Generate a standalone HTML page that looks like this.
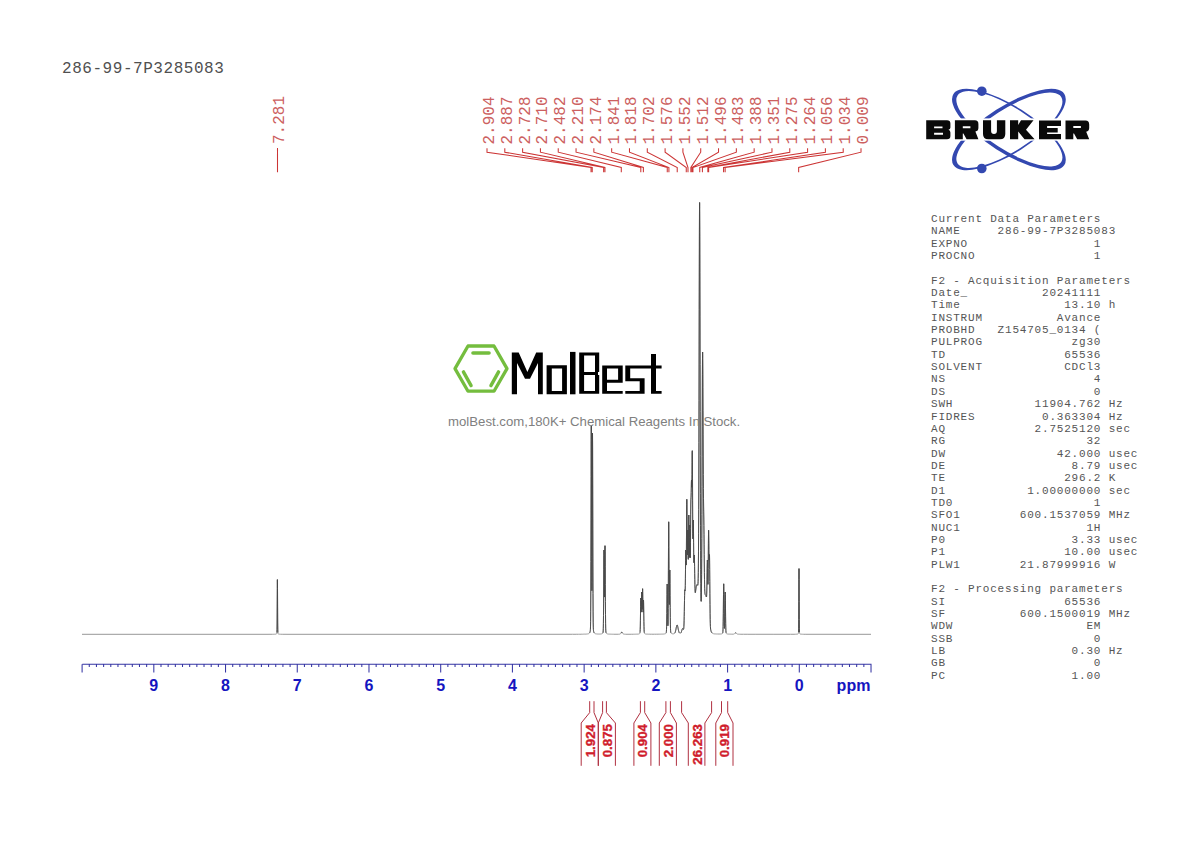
<!DOCTYPE html>
<html><head><meta charset="utf-8"><style>
html,body{margin:0;padding:0;background:#fff;}
body{width:1190px;height:842px;overflow:hidden;position:relative;}
svg{position:absolute;left:0;top:0;}
.axn{font-family:"Liberation Sans",sans-serif;font-weight:bold;font-size:16px;fill:#1515c0;}
.pl{font-family:"Liberation Mono",monospace;font-size:16px;fill:#cc6060;}
.il{font-family:"Liberation Sans",sans-serif;font-weight:bold;font-size:13.3px;fill:#d01c2c;stroke:#d01c2c;stroke-width:0.35px;}
.brk{font-family:"Liberation Sans",sans-serif;font-weight:bold;font-size:26px;fill:#111;}
.wm{font-family:"Liberation Sans",sans-serif;font-size:13.2px;fill:#808080;}
#title{position:absolute;left:62px;top:59px;font-family:"Liberation Mono",monospace;font-size:16px;letter-spacing:0.55px;color:#505050;white-space:pre;line-height:20px;}
#params{position:absolute;left:931px;top:213px;font-family:"Liberation Mono",monospace;font-size:11px;letter-spacing:0.8px;line-height:12.35px;color:#555;white-space:pre;margin:0;}
</style></head><body>
<div id="title">286-99-7P3285083</div>
<svg width="1190" height="842" viewBox="0 0 1190 842">
<path d="M82.00,634.30 L268.00,634.30 L269.00,634.29 L272.60,634.29 L272.70,634.28 L273.70,634.28 L273.80,634.27 L274.30,634.27 L274.40,634.26 L274.60,634.26 L274.70,634.25 L274.90,634.25 L275.00,634.24 L275.10,634.24 L275.20,634.23 L275.30,634.23 L275.40,634.22 L275.50,634.21 L275.60,634.20 L275.70,634.19 L275.80,634.17 L275.90,634.16 L276.00,634.14 L276.10,634.11 L276.20,634.08 L276.30,634.04 L276.40,633.98 L276.50,633.91 L276.60,633.82 L276.70,633.67 L276.80,633.39 L276.90,632.56 L277.00,629.75 L277.10,622.00 L277.20,606.95 L277.30,588.64 L277.40,579.60 L277.50,588.64 L277.60,606.95 L277.70,622.00 L277.80,629.75 L277.90,632.56 L278.00,633.39 L278.10,633.67 L278.20,633.82 L278.30,633.91 L278.40,633.98 L278.50,634.04 L278.60,634.08 L278.70,634.11 L278.80,634.14 L278.90,634.16 L279.00,634.17 L279.10,634.19 L279.20,634.20 L279.30,634.21 L279.40,634.22 L279.50,634.23 L279.60,634.23 L279.70,634.24 L279.80,634.24 L279.90,634.25 L280.10,634.25 L280.20,634.26 L280.40,634.26 L280.50,634.27 L281.00,634.27 L281.10,634.28 L282.10,634.28 L282.20,634.29 L286.00,634.29 L287.00,634.30 L527.00,634.30 L528.00,634.29 L564.00,634.29 L565.00,634.28 L572.30,634.28 L572.40,634.27 L576.10,634.27 L576.20,634.26 L578.30,634.26 L578.40,634.25 L579.80,634.25 L579.90,634.24 L581.00,634.24 L581.10,634.23 L581.80,634.23 L581.90,634.22 L582.50,634.22 L582.60,634.21 L583.10,634.21 L583.20,634.20 L583.50,634.20 L583.60,634.19 L583.90,634.19 L584.00,634.18 L584.30,634.18 L584.40,634.17 L584.60,634.17 L584.70,634.16 L584.90,634.16 L585.00,634.15 L585.10,634.15 L585.20,634.14 L585.30,634.14 L585.40,634.13 L585.50,634.13 L585.60,634.12 L585.70,634.12 L585.80,634.11 L585.90,634.11 L586.00,634.10 L586.10,634.09 L586.20,634.09 L586.30,634.08 L586.40,634.07 L586.50,634.06 L586.60,634.05 L586.70,634.04 L586.80,634.03 L586.90,634.02 L587.00,634.01 L587.10,634.00 L587.20,633.99 L587.30,633.97 L587.40,633.96 L587.50,633.94 L587.60,633.93 L587.70,633.91 L587.80,633.89 L587.90,633.87 L588.00,633.84 L588.10,633.82 L588.20,633.79 L588.30,633.76 L588.40,633.73 L588.50,633.69 L588.60,633.65 L588.70,633.61 L588.80,633.56 L588.90,633.51 L589.00,633.44 L589.10,633.38 L589.20,633.30 L589.30,633.21 L589.40,633.11 L589.50,632.99 L589.60,632.86 L589.70,632.70 L589.80,632.52 L589.90,632.29 L590.00,632.03 L590.10,631.69 L590.20,631.25 L590.30,630.58 L590.40,629.39 L590.50,626.95 L590.60,621.73 L590.70,611.15 L590.80,591.93 L590.90,561.61 L591.00,521.04 L591.10,476.63 L591.20,440.33 L591.30,425.80 L591.40,439.66 L591.50,475.15 L591.60,518.28 L591.70,556.40 L591.80,581.64 L591.90,590.63 L592.00,582.68 L592.10,558.69 L592.20,522.08 L592.30,480.54 L592.40,446.34 L592.50,433.00 L592.60,447.03 L592.70,482.08 L592.80,524.93 L592.90,564.08 L593.00,593.34 L593.10,611.89 L593.20,622.10 L593.30,627.15 L593.40,629.51 L593.50,630.66 L593.60,631.30 L593.70,631.73 L593.80,632.06 L593.90,632.32 L594.00,632.54 L594.10,632.72 L594.20,632.87 L594.30,633.00 L594.40,633.11 L594.50,633.21 L594.60,633.30 L594.70,633.37 L594.80,633.44 L594.90,633.50 L595.00,633.55 L595.10,633.59 L595.20,633.64 L595.30,633.68 L595.40,633.71 L595.50,633.74 L595.60,633.77 L595.70,633.80 L595.80,633.82 L595.90,633.84 L596.00,633.86 L596.10,633.88 L596.20,633.90 L596.30,633.91 L596.40,633.93 L596.50,633.94 L596.60,633.95 L596.70,633.96 L596.80,633.97 L596.90,633.98 L597.00,633.99 L597.10,634.00 L597.20,634.01 L597.30,634.02 L597.40,634.02 L597.50,634.03 L597.60,634.03 L597.70,634.04 L597.80,634.04 L597.90,634.05 L598.00,634.05 L598.10,634.06 L598.40,634.06 L598.50,634.07 L599.50,634.07 L599.60,634.06 L599.90,634.06 L600.00,634.05 L600.10,634.05 L600.20,634.04 L600.30,634.04 L600.40,634.03 L600.50,634.02 L600.60,634.02 L600.70,634.01 L600.80,634.00 L600.90,633.99 L601.00,633.98 L601.10,633.96 L601.20,633.95 L601.30,633.93 L601.40,633.91 L601.50,633.89 L601.60,633.87 L601.70,633.84 L601.80,633.81 L601.90,633.78 L602.00,633.74 L602.10,633.70 L602.20,633.65 L602.30,633.59 L602.40,633.52 L602.50,633.43 L602.60,633.34 L602.70,633.22 L602.80,633.07 L602.90,632.86 L603.00,632.55 L603.10,631.98 L603.20,630.81 L603.30,628.39 L603.40,623.70 L603.50,615.52 L603.60,603.09 L603.70,586.94 L603.80,569.64 L603.90,555.68 L604.00,550.00 L604.10,554.82 L604.20,567.41 L604.30,582.08 L604.40,593.24 L604.50,597.06 L604.60,592.16 L604.70,579.91 L604.80,564.21 L604.90,550.83 L605.00,545.70 L605.10,551.65 L605.20,566.33 L605.30,584.53 L605.40,601.52 L605.50,614.61 L605.60,623.21 L605.70,628.15 L605.80,630.69 L605.90,631.91 L606.00,632.51 L606.10,632.84 L606.20,633.06 L606.30,633.21 L606.40,633.34 L606.50,633.44 L606.60,633.53 L606.70,633.60 L606.80,633.66 L606.90,633.72 L607.00,633.76 L607.10,633.80 L607.20,633.84 L607.30,633.87 L607.40,633.90 L607.50,633.93 L607.60,633.95 L607.70,633.97 L607.80,633.99 L607.90,634.01 L608.00,634.02 L608.10,634.04 L608.20,634.05 L608.30,634.06 L608.40,634.07 L608.50,634.08 L608.60,634.09 L608.70,634.10 L608.80,634.11 L608.90,634.11 L609.00,634.12 L609.10,634.13 L609.20,634.13 L609.30,634.14 L609.40,634.15 L609.60,634.15 L609.70,634.16 L609.80,634.16 L609.90,634.17 L610.10,634.17 L610.20,634.18 L610.40,634.18 L610.50,634.19 L610.70,634.19 L610.80,634.20 L611.20,634.20 L611.30,634.21 L611.80,634.21 L611.90,634.22 L612.60,634.22 L612.70,634.23 L613.70,634.23 L613.80,634.24 L618.60,634.24 L618.70,634.23 L619.10,634.23 L619.20,634.22 L619.30,634.22 L619.40,634.21 L619.50,634.20 L619.60,634.19 L619.70,634.17 L619.80,634.15 L619.90,634.12 L620.00,634.09 L620.10,634.05 L620.20,633.99 L620.30,633.92 L620.40,633.84 L620.50,633.75 L620.60,633.64 L620.70,633.51 L620.80,633.38 L620.90,633.23 L621.00,633.08 L621.10,632.92 L621.20,632.76 L621.30,632.61 L621.40,632.48 L621.50,632.36 L621.60,632.27 L621.70,632.22 L621.80,632.20 L621.90,632.22 L622.00,632.27 L622.10,632.36 L622.20,632.48 L622.30,632.61 L622.40,632.76 L622.50,632.92 L622.60,633.08 L622.70,633.23 L622.80,633.38 L622.90,633.52 L623.00,633.64 L623.10,633.75 L623.20,633.84 L623.30,633.93 L623.40,633.99 L623.50,634.05 L623.60,634.09 L623.70,634.13 L623.80,634.15 L623.90,634.17 L624.00,634.19 L624.10,634.20 L624.20,634.21 L624.30,634.22 L624.40,634.22 L624.50,634.23 L624.70,634.23 L624.80,634.24 L625.50,634.24 L625.60,634.25 L631.70,634.25 L631.80,634.24 L633.40,634.24 L633.50,634.23 L634.40,634.23 L634.50,634.22 L635.10,634.22 L635.20,634.21 L635.60,634.21 L635.70,634.20 L636.00,634.20 L636.10,634.19 L636.40,634.19 L636.50,634.18 L636.70,634.18 L636.80,634.17 L636.90,634.17 L637.00,634.16 L637.10,634.16 L637.20,634.15 L637.30,634.15 L637.40,634.14 L637.50,634.14 L637.60,634.13 L637.70,634.12 L637.80,634.11 L637.90,634.11 L638.00,634.10 L638.10,634.09 L638.20,634.07 L638.30,634.06 L638.40,634.05 L638.50,634.03 L638.60,634.02 L638.70,634.00 L638.80,633.98 L638.90,633.95 L639.00,633.92 L639.10,633.89 L639.20,633.86 L639.30,633.82 L639.40,633.77 L639.50,633.71 L639.60,633.63 L639.70,633.54 L639.80,633.39 L639.90,633.14 L640.00,632.63 L640.10,631.59 L640.20,629.58 L640.30,626.09 L640.40,620.80 L640.50,613.93 L640.60,606.56 L640.70,600.57 L640.80,598.00 L640.90,599.70 L641.00,604.34 L641.10,609.31 L641.20,612.11 L641.30,611.26 L641.40,606.80 L641.50,600.31 L641.60,594.44 L641.70,592.00 L641.80,594.24 L641.90,599.79 L642.00,605.74 L642.10,609.29 L642.20,608.79 L642.30,604.24 L642.40,597.40 L642.50,591.19 L642.60,588.70 L642.70,591.37 L642.80,597.85 L642.90,605.17 L643.00,610.48 L643.10,612.14 L643.20,610.07 L643.30,605.72 L643.40,601.52 L643.50,600.00 L643.60,602.45 L643.70,608.11 L643.80,615.06 L643.90,621.53 L644.00,626.52 L644.10,629.81 L644.20,631.70 L644.30,632.68 L644.40,633.17 L644.50,633.41 L644.60,633.55 L644.70,633.64 L644.80,633.71 L644.90,633.77 L645.00,633.82 L645.10,633.86 L645.20,633.89 L645.30,633.92 L645.40,633.95 L645.50,633.97 L645.60,633.99 L645.70,634.01 L645.80,634.03 L645.90,634.04 L646.00,634.05 L646.10,634.07 L646.20,634.08 L646.30,634.09 L646.40,634.10 L646.50,634.10 L646.60,634.11 L646.70,634.12 L646.80,634.13 L646.90,634.13 L647.00,634.14 L647.10,634.14 L647.20,634.15 L647.30,634.15 L647.40,634.16 L647.60,634.16 L647.70,634.17 L648.00,634.17 L648.10,634.18 L648.40,634.18 L648.50,634.19 L649.00,634.19 L649.10,634.20 L649.80,634.20 L649.90,634.21 L651.60,634.21 L651.70,634.22 L654.30,634.22 L654.40,634.21 L656.70,634.21 L656.80,634.20 L658.10,634.20 L658.20,634.19 L659.00,634.19 L659.10,634.18 L659.80,634.18 L659.90,634.17 L660.40,634.17 L660.50,634.16 L660.90,634.16 L661.00,634.15 L661.30,634.15 L661.40,634.14 L661.60,634.14 L661.70,634.13 L662.00,634.13 L662.10,634.12 L662.20,634.12 L662.30,634.11 L662.50,634.11 L662.60,634.10 L662.70,634.10 L662.80,634.09 L662.90,634.09 L663.00,634.08 L663.10,634.08 L663.20,634.07 L663.30,634.06 L663.40,634.06 L663.50,634.05 L663.60,634.04 L663.70,634.03 L663.80,634.02 L663.90,634.01 L664.00,634.00 L664.10,633.99 L664.20,633.98 L664.30,633.97 L664.40,633.95 L664.50,633.94 L664.60,633.92 L664.70,633.90 L664.80,633.88 L664.90,633.86 L665.00,633.84 L665.10,633.81 L665.20,633.78 L665.30,633.74 L665.40,633.70 L665.50,633.66 L665.60,633.61 L665.70,633.55 L665.80,633.47 L665.90,633.39 L666.00,633.28 L666.10,633.12 L666.20,632.86 L666.30,632.39 L666.40,631.45 L666.50,629.62 L666.60,626.34 L666.70,621.02 L666.80,613.44 L666.90,604.09 L667.00,594.48 L667.10,586.96 L667.20,584.00 L667.30,586.74 L667.40,594.02 L667.50,603.37 L667.60,612.39 L667.70,619.52 L667.80,624.04 L667.90,625.74 L668.00,624.32 L668.10,618.97 L668.20,608.50 L668.30,592.11 L668.40,570.66 L668.50,547.65 L668.60,529.14 L668.70,521.80 L668.80,528.77 L668.90,546.71 L669.00,568.59 L669.10,587.86 L669.20,600.32 L669.30,604.51 L669.40,601.17 L669.50,592.56 L669.60,581.97 L669.70,573.25 L669.80,570.00 L669.90,573.88 L670.00,583.51 L670.10,595.76 L670.20,607.67 L670.30,617.34 L670.40,624.11 L670.50,628.30 L670.60,630.63 L670.70,631.83 L670.80,632.44 L670.90,632.76 L671.00,632.96 L671.10,633.10 L671.20,633.21 L671.30,633.30 L671.40,633.38 L671.50,633.44 L671.60,633.49 L671.70,633.54 L671.80,633.58 L671.90,633.61 L672.00,633.64 L672.10,633.67 L672.20,633.69 L672.30,633.71 L672.40,633.73 L672.50,633.74 L672.60,633.76 L672.70,633.77 L672.80,633.77 L672.90,633.78 L673.00,633.79 L673.50,633.79 L673.60,633.78 L673.70,633.77 L673.80,633.76 L673.90,633.74 L674.00,633.71 L674.10,633.68 L674.20,633.64 L674.30,633.59 L674.40,633.53 L674.50,633.45 L674.60,633.35 L674.70,633.24 L674.80,633.10 L674.90,632.93 L675.00,632.74 L675.10,632.52 L675.20,632.26 L675.30,631.97 L675.40,631.64 L675.50,631.28 L675.60,630.88 L675.70,630.45 L675.80,629.99 L675.90,629.50 L676.00,629.00 L676.10,628.48 L676.20,627.96 L676.30,627.45 L676.40,626.96 L676.50,626.50 L676.60,626.08 L676.70,625.71 L676.80,625.41 L676.90,625.19 L677.00,625.05 L677.10,625.00 L677.20,625.04 L677.30,625.17 L677.40,625.39 L677.50,625.68 L677.60,626.04 L677.70,626.45 L677.80,626.91 L677.90,627.39 L678.00,627.90 L678.10,628.41 L678.20,628.92 L678.30,629.42 L678.40,629.89 L678.50,630.35 L678.60,630.77 L678.70,631.16 L678.80,631.51 L678.90,631.83 L679.00,632.12 L679.10,632.36 L679.20,632.57 L679.30,632.76 L679.40,632.91 L679.50,633.04 L679.60,633.14 L679.70,633.22 L679.80,633.28 L679.90,633.32 L680.00,633.35 L680.10,633.36 L680.20,633.36 L680.30,633.34 L680.40,633.31 L680.50,633.26 L680.60,633.19 L680.70,633.10 L680.80,633.00 L680.90,632.86 L681.00,632.70 L681.10,632.52 L681.20,632.31 L681.30,632.07 L681.40,631.80 L681.50,631.51 L681.60,631.20 L681.70,630.87 L681.80,630.53 L681.90,630.20 L682.00,629.87 L682.10,629.55 L682.20,629.27 L682.30,629.03 L682.40,628.83 L682.50,628.68 L682.60,628.60 L682.70,628.58 L682.80,628.61 L682.90,628.70 L683.00,628.83 L683.10,628.98 L683.20,629.15 L683.30,629.29 L683.40,629.39 L683.50,629.39 L683.60,629.20 L683.70,628.73 L683.80,627.81 L683.90,626.29 L684.00,623.98 L684.10,620.76 L684.20,616.59 L684.30,611.59 L684.40,606.06 L684.50,600.52 L684.60,595.60 L684.70,591.95 L684.80,590.00 L684.90,589.71 L685.00,590.36 L685.10,590.75 L685.20,589.53 L685.30,585.67 L685.40,578.86 L685.50,569.85 L685.60,560.41 L685.70,553.03 L685.80,550.00 L685.90,552.06 L686.00,557.51 L686.10,563.01 L686.20,565.06 L686.30,561.13 L686.40,550.57 L686.50,534.99 L686.60,518.05 L686.70,504.63 L686.80,499.30 L686.90,503.96 L687.00,516.51 L687.10,532.20 L687.20,545.96 L687.30,554.03 L687.40,554.89 L687.50,549.47 L687.60,540.80 L687.70,533.02 L687.80,530.00 L687.90,533.41 L688.00,541.76 L688.10,551.34 L688.20,558.18 L688.30,559.34 L688.40,553.83 L688.50,542.92 L688.60,529.89 L688.70,519.21 L688.80,515.00 L688.90,519.01 L689.00,529.45 L689.10,542.14 L689.20,552.58 L689.30,557.46 L689.40,555.54 L689.50,547.85 L689.60,537.47 L689.70,528.56 L689.80,525.00 L689.90,528.45 L690.00,537.30 L690.10,547.72 L690.20,555.55 L690.30,557.71 L690.40,552.98 L690.50,542.29 L690.60,528.37 L690.70,514.86 L690.80,505.00 L690.90,499.90 L691.00,497.85 L691.10,495.96 L691.20,492.29 L691.30,486.94 L691.40,481.96 L691.50,480.00 L691.60,481.96 L691.70,485.67 L691.80,487.24 L691.90,483.65 L692.00,474.43 L692.10,462.30 L692.20,452.49 L692.30,450.70 L692.40,459.87 L692.50,478.11 L692.60,500.14 L692.70,520.13 L692.80,533.65 L692.90,538.81 L693.00,536.42 L693.10,529.63 L693.20,522.78 L693.30,520.00 L693.40,523.35 L693.50,531.92 L693.60,542.80 L693.70,552.85 L693.80,559.78 L693.90,562.66 L694.00,561.94 L694.10,559.13 L694.20,556.21 L694.30,555.00 L694.40,556.53 L694.50,560.72 L694.60,566.68 L694.70,573.28 L694.80,579.52 L694.90,584.72 L695.00,588.54 L695.10,590.99 L695.20,592.28 L695.30,592.69 L695.40,592.52 L695.50,592.01 L695.60,591.32 L695.70,590.55 L695.80,589.77 L695.90,589.01 L696.00,588.29 L696.10,587.62 L696.20,587.01 L696.30,586.47 L696.40,585.99 L696.50,585.59 L696.60,585.25 L696.70,584.99 L696.80,584.80 L696.90,584.68 L697.00,584.63 L697.10,584.63 L697.20,584.70 L697.30,584.81 L697.40,584.96 L697.50,585.12 L697.60,585.26 L697.70,585.31 L697.80,585.19 L697.90,584.74 L698.00,583.70 L698.10,581.72 L698.20,578.26 L698.30,572.62 L698.40,563.91 L698.50,551.13 L698.60,533.24 L698.70,509.38 L698.80,479.04 L698.90,442.38 L699.00,400.38 L699.10,355.03 L699.20,309.27 L699.30,266.94 L699.40,232.36 L699.50,209.79 L699.60,202.50 L699.70,211.72 L699.80,236.20 L699.90,272.67 L700.00,316.87 L700.10,364.44 L700.20,411.55 L700.30,455.24 L700.40,493.50 L700.50,525.33 L700.60,550.56 L700.70,569.62 L700.80,583.34 L700.90,592.64 L701.00,598.36 L701.10,601.14 L701.20,601.36 L701.30,599.09 L701.40,594.12 L701.50,586.06 L701.60,574.40 L701.70,558.69 L701.80,538.66 L701.90,514.45 L702.00,486.69 L702.10,456.69 L702.20,426.32 L702.30,398.02 L702.40,374.54 L702.50,358.54 L702.60,352.00 L702.70,355.54 L702.80,368.15 L702.90,387.45 L703.00,410.43 L703.10,434.11 L703.20,455.99 L703.30,474.39 L703.40,488.57 L703.50,498.77 L703.60,506.03 L703.70,511.91 L703.80,518.00 L703.90,525.36 L704.00,534.24 L704.10,544.17 L704.20,554.37 L704.30,564.04 L704.40,572.55 L704.50,579.53 L704.60,584.87 L704.70,588.69 L704.80,591.24 L704.90,592.83 L705.00,593.75 L705.10,594.26 L705.20,594.53 L705.30,594.68 L705.40,594.78 L705.50,594.89 L705.60,595.02 L705.70,595.19 L705.80,595.40 L705.90,595.65 L706.00,595.95 L706.10,596.27 L706.20,596.60 L706.30,596.88 L706.40,597.00 L706.50,596.78 L706.60,595.94 L706.70,594.09 L706.80,590.88 L706.90,586.09 L707.00,579.84 L707.10,572.78 L707.20,566.10 L707.30,561.36 L707.40,560.00 L707.50,562.56 L707.60,568.21 L707.70,575.09 L707.80,581.10 L707.90,584.36 L708.00,583.52 L708.10,578.04 L708.20,568.36 L708.30,556.04 L708.40,543.60 L708.50,534.08 L708.60,530.20 L708.70,532.84 L708.80,540.32 L708.90,549.35 L709.00,556.68 L709.10,560.31 L709.20,559.97 L709.30,557.15 L709.40,554.53 L709.50,555.00 L709.60,560.17 L709.70,569.62 L709.80,581.50 L709.90,593.72 L710.00,604.63 L710.10,613.30 L710.20,619.57 L710.30,623.75 L710.40,626.38 L710.50,627.99 L710.60,629.01 L710.70,629.69 L710.80,630.20 L710.90,630.61 L711.00,630.96 L711.10,631.26 L711.20,631.53 L711.30,631.77 L711.40,631.99 L711.50,632.18 L711.60,632.36 L711.70,632.51 L711.80,632.65 L711.90,632.78 L712.00,632.89 L712.10,632.99 L712.20,633.09 L712.30,633.17 L712.40,633.24 L712.50,633.31 L712.60,633.37 L712.70,633.42 L712.80,633.47 L712.90,633.51 L713.00,633.55 L713.10,633.59 L713.20,633.62 L713.30,633.65 L713.40,633.68 L713.50,633.70 L713.60,633.72 L713.70,633.74 L713.80,633.76 L713.90,633.78 L714.00,633.79 L714.10,633.81 L714.20,633.82 L714.30,633.83 L714.40,633.85 L714.50,633.86 L714.60,633.87 L714.70,633.88 L714.80,633.89 L714.90,633.89 L715.00,633.90 L715.10,633.91 L715.20,633.92 L715.30,633.92 L715.40,633.93 L715.50,633.94 L715.60,633.94 L715.70,633.95 L715.80,633.95 L715.90,633.96 L716.00,633.96 L716.10,633.97 L716.20,633.97 L716.30,633.98 L716.50,633.98 L716.60,633.99 L716.80,633.99 L716.90,634.00 L717.10,634.00 L717.20,634.01 L717.40,634.01 L717.50,634.02 L717.90,634.02 L718.00,634.03 L719.90,634.03 L720.00,634.02 L720.20,634.02 L720.30,634.01 L720.50,634.01 L720.60,634.00 L720.70,633.99 L720.80,633.99 L720.90,633.98 L721.00,633.97 L721.10,633.96 L721.20,633.95 L721.30,633.94 L721.40,633.92 L721.50,633.90 L721.60,633.89 L721.70,633.86 L721.80,633.84 L721.90,633.81 L722.00,633.77 L722.10,633.73 L722.20,633.68 L722.30,633.62 L722.40,633.55 L722.50,633.46 L722.60,633.31 L722.70,633.07 L722.80,632.61 L722.90,631.68 L723.00,629.85 L723.10,626.54 L723.20,621.17 L723.30,613.50 L723.40,604.05 L723.50,594.33 L723.60,586.74 L723.70,583.80 L723.80,586.66 L723.90,594.16 L724.00,603.78 L724.10,613.10 L724.20,620.56 L724.30,625.54 L724.40,628.06 L724.50,628.36 L724.60,626.53 L724.70,622.52 L724.80,616.36 L724.90,608.62 L725.00,600.61 L725.10,594.37 L725.20,592.00 L725.30,594.47 L725.40,600.82 L725.50,608.95 L725.60,616.86 L725.70,623.27 L725.80,627.76 L725.90,630.53 L726.00,632.07 L726.10,632.85 L726.20,633.24 L726.30,633.45 L726.40,633.57 L726.50,633.66 L726.60,633.72 L726.70,633.78 L726.80,633.82 L726.90,633.86 L727.00,633.89 L727.10,633.92 L727.20,633.94 L727.30,633.96 L727.40,633.98 L727.50,634.00 L727.60,634.02 L727.70,634.03 L727.80,634.04 L727.90,634.05 L728.00,634.06 L728.10,634.07 L728.20,634.08 L728.30,634.09 L728.40,634.10 L728.50,634.10 L728.60,634.11 L728.70,634.11 L728.80,634.12 L728.90,634.12 L729.00,634.13 L729.10,634.13 L729.20,634.14 L729.40,634.14 L729.50,634.15 L729.70,634.15 L729.80,634.16 L730.10,634.16 L730.20,634.17 L730.70,634.17 L730.80,634.18 L731.50,634.18 L731.60,634.19 L732.80,634.19 L732.90,634.18 L733.10,634.18 L733.20,634.17 L733.30,634.16 L733.40,634.15 L733.50,634.14 L733.60,634.12 L733.70,634.10 L733.80,634.07 L733.90,634.04 L734.00,634.00 L734.10,633.96 L734.20,633.90 L734.30,633.84 L734.40,633.77 L734.50,633.69 L734.60,633.60 L734.70,633.51 L734.80,633.41 L734.90,633.32 L735.00,633.22 L735.10,633.12 L735.20,633.03 L735.30,632.96 L735.40,632.89 L735.50,632.84 L735.60,632.81 L735.70,632.80 L735.80,632.81 L735.90,632.84 L736.00,632.89 L736.10,632.96 L736.20,633.04 L736.30,633.13 L736.40,633.22 L736.50,633.32 L736.60,633.42 L736.70,633.52 L736.80,633.61 L736.90,633.70 L737.00,633.78 L737.10,633.85 L737.20,633.92 L737.30,633.97 L737.40,634.02 L737.50,634.06 L737.60,634.09 L737.70,634.12 L737.80,634.15 L737.90,634.16 L738.00,634.18 L738.10,634.19 L738.20,634.20 L738.30,634.21 L738.40,634.21 L738.50,634.22 L738.80,634.22 L738.90,634.23 L739.50,634.23 L739.60,634.24 L740.90,634.24 L741.00,634.25 L743.40,634.25 L743.50,634.26 L747.90,634.26 L748.00,634.27 L755.90,634.27 L756.00,634.28 L773.00,634.28 L773.10,634.29 L790.50,634.29 L790.60,634.28 L794.00,634.28 L794.10,634.27 L795.10,634.27 L795.20,634.26 L795.70,634.26 L795.80,634.25 L796.00,634.25 L796.10,634.24 L796.30,634.24 L796.40,634.23 L796.50,634.23 L796.60,634.22 L796.70,634.22 L796.80,634.21 L796.90,634.20 L797.00,634.19 L797.10,634.18 L797.20,634.17 L797.30,634.16 L797.40,634.14 L797.50,634.12 L797.60,634.09 L797.70,634.06 L797.80,634.03 L797.90,633.98 L798.00,633.91 L798.10,633.83 L798.20,633.71 L798.30,633.54 L798.40,633.20 L798.50,632.20 L798.60,628.83 L798.70,619.52 L798.80,601.44 L798.90,579.45 L799.00,568.60 L799.10,579.45 L799.20,601.44 L799.30,619.52 L799.40,628.83 L799.50,632.20 L799.60,633.20 L799.70,633.54 L799.80,633.71 L799.90,633.83 L800.00,633.91 L800.10,633.98 L800.20,634.03 L800.30,634.06 L800.40,634.10 L800.50,634.12 L800.60,634.14 L800.70,634.16 L800.80,634.17 L800.90,634.18 L801.00,634.19 L801.10,634.20 L801.20,634.21 L801.30,634.22 L801.40,634.22 L801.50,634.23 L801.60,634.23 L801.70,634.24 L801.80,634.24 L801.90,634.25 L802.20,634.25 L802.30,634.26 L802.70,634.26 L802.80,634.27 L803.70,634.27 L803.80,634.28 L805.90,634.28 L806.00,634.29 L831.00,634.29 L832.00,634.30 L871.00,634.30" fill="none" stroke="#8c8c8c" stroke-width="0.9"/><path d="M276.90,632.56 L277.00,629.75 L277.10,622.00 L277.20,606.95 L277.30,588.64 L277.40,579.60 L277.50,588.64 L277.60,606.95 L277.70,622.00 L277.80,629.75 L277.90,632.56 M589.50,632.99 L589.60,632.86 L589.70,632.70 L589.80,632.52 L589.90,632.29 L590.00,632.03 L590.10,631.69 L590.20,631.25 L590.30,630.58 L590.40,629.39 L590.50,626.95 L590.60,621.73 L590.70,611.15 L590.80,591.93 L590.90,561.61 L591.00,521.04 L591.10,476.63 L591.20,440.33 L591.30,425.80 L591.40,439.66 L591.50,475.15 L591.60,518.28 L591.70,556.40 L591.80,581.64 L591.90,590.63 L592.00,582.68 L592.10,558.69 L592.20,522.08 L592.30,480.54 L592.40,446.34 L592.50,433.00 L592.60,447.03 L592.70,482.08 L592.80,524.93 L592.90,564.08 L593.00,593.34 L593.10,611.89 L593.20,622.10 L593.30,627.15 L593.40,629.51 L593.50,630.66 L593.60,631.30 L593.70,631.73 L593.80,632.06 L593.90,632.32 L594.00,632.54 L594.10,632.72 L594.20,632.87 L594.30,633.00 M602.80,633.07 L602.90,632.86 L603.00,632.55 L603.10,631.98 L603.20,630.81 L603.30,628.39 L603.40,623.70 L603.50,615.52 L603.60,603.09 L603.70,586.94 L603.80,569.64 L603.90,555.68 L604.00,550.00 L604.10,554.82 L604.20,567.41 L604.30,582.08 L604.40,593.24 L604.50,597.06 L604.60,592.16 L604.70,579.91 L604.80,564.21 L604.90,550.83 L605.00,545.70 L605.10,551.65 L605.20,566.33 L605.30,584.53 L605.40,601.52 L605.50,614.61 L605.60,623.21 L605.70,628.15 L605.80,630.69 L605.90,631.91 L606.00,632.51 L606.10,632.84 L606.20,633.06 M621.00,633.08 L621.10,632.92 L621.20,632.76 L621.30,632.61 L621.40,632.48 L621.50,632.36 L621.60,632.27 L621.70,632.22 L621.80,632.20 L621.90,632.22 L622.00,632.27 L622.10,632.36 L622.20,632.48 L622.30,632.61 L622.40,632.76 L622.50,632.92 L622.60,633.08 M640.00,632.63 L640.10,631.59 L640.20,629.58 L640.30,626.09 L640.40,620.80 L640.50,613.93 L640.60,606.56 L640.70,600.57 L640.80,598.00 L640.90,599.70 L641.00,604.34 L641.10,609.31 L641.20,612.11 L641.30,611.26 L641.40,606.80 L641.50,600.31 L641.60,594.44 L641.70,592.00 L641.80,594.24 L641.90,599.79 L642.00,605.74 L642.10,609.29 L642.20,608.79 L642.30,604.24 L642.40,597.40 L642.50,591.19 L642.60,588.70 L642.70,591.37 L642.80,597.85 L642.90,605.17 L643.00,610.48 L643.10,612.14 L643.20,610.07 L643.30,605.72 L643.40,601.52 L643.50,600.00 L643.60,602.45 L643.70,608.11 L643.80,615.06 L643.90,621.53 L644.00,626.52 L644.10,629.81 L644.20,631.70 L644.30,632.68 M666.20,632.86 L666.30,632.39 L666.40,631.45 L666.50,629.62 L666.60,626.34 L666.70,621.02 L666.80,613.44 L666.90,604.09 L667.00,594.48 L667.10,586.96 L667.20,584.00 L667.30,586.74 L667.40,594.02 L667.50,603.37 L667.60,612.39 L667.70,619.52 L667.80,624.04 L667.90,625.74 L668.00,624.32 L668.10,618.97 L668.20,608.50 L668.30,592.11 L668.40,570.66 L668.50,547.65 L668.60,529.14 L668.70,521.80 L668.80,528.77 L668.90,546.71 L669.00,568.59 L669.10,587.86 L669.20,600.32 L669.30,604.51 L669.40,601.17 L669.50,592.56 L669.60,581.97 L669.70,573.25 L669.80,570.00 L669.90,573.88 L670.00,583.51 L670.10,595.76 L670.20,607.67 L670.30,617.34 L670.40,624.11 L670.50,628.30 L670.60,630.63 L670.70,631.83 L670.80,632.44 L670.90,632.76 L671.00,632.96 M674.80,633.10 L674.90,632.93 L675.00,632.74 L675.10,632.52 L675.20,632.26 L675.30,631.97 L675.40,631.64 L675.50,631.28 L675.60,630.88 L675.70,630.45 L675.80,629.99 L675.90,629.50 L676.00,629.00 L676.10,628.48 L676.20,627.96 L676.30,627.45 L676.40,626.96 L676.50,626.50 L676.60,626.08 L676.70,625.71 L676.80,625.41 L676.90,625.19 L677.00,625.05 L677.10,625.00 L677.20,625.04 L677.30,625.17 L677.40,625.39 L677.50,625.68 L677.60,626.04 L677.70,626.45 L677.80,626.91 L677.90,627.39 L678.00,627.90 L678.10,628.41 L678.20,628.92 L678.30,629.42 L678.40,629.89 L678.50,630.35 L678.60,630.77 L678.70,631.16 L678.80,631.51 L678.90,631.83 L679.00,632.12 L679.10,632.36 L679.20,632.57 L679.30,632.76 L679.40,632.91 L679.50,633.04 M680.80,633.00 L680.90,632.86 L681.00,632.70 L681.10,632.52 L681.20,632.31 L681.30,632.07 L681.40,631.80 L681.50,631.51 L681.60,631.20 L681.70,630.87 L681.80,630.53 L681.90,630.20 L682.00,629.87 L682.10,629.55 L682.20,629.27 L682.30,629.03 L682.40,628.83 L682.50,628.68 L682.60,628.60 L682.70,628.58 L682.80,628.61 L682.90,628.70 L683.00,628.83 L683.10,628.98 L683.20,629.15 L683.30,629.29 L683.40,629.39 L683.50,629.39 L683.60,629.20 L683.70,628.73 L683.80,627.81 L683.90,626.29 L684.00,623.98 L684.10,620.76 L684.20,616.59 L684.30,611.59 L684.40,606.06 L684.50,600.52 L684.60,595.60 L684.70,591.95 L684.80,590.00 L684.90,589.71 L685.00,590.36 L685.10,590.75 L685.20,589.53 L685.30,585.67 L685.40,578.86 L685.50,569.85 L685.60,560.41 L685.70,553.03 L685.80,550.00 L685.90,552.06 L686.00,557.51 L686.10,563.01 L686.20,565.06 L686.30,561.13 L686.40,550.57 L686.50,534.99 L686.60,518.05 L686.70,504.63 L686.80,499.30 L686.90,503.96 L687.00,516.51 L687.10,532.20 L687.20,545.96 L687.30,554.03 L687.40,554.89 L687.50,549.47 L687.60,540.80 L687.70,533.02 L687.80,530.00 L687.90,533.41 L688.00,541.76 L688.10,551.34 L688.20,558.18 L688.30,559.34 L688.40,553.83 L688.50,542.92 L688.60,529.89 L688.70,519.21 L688.80,515.00 L688.90,519.01 L689.00,529.45 L689.10,542.14 L689.20,552.58 L689.30,557.46 L689.40,555.54 L689.50,547.85 L689.60,537.47 L689.70,528.56 L689.80,525.00 L689.90,528.45 L690.00,537.30 L690.10,547.72 L690.20,555.55 L690.30,557.71 L690.40,552.98 L690.50,542.29 L690.60,528.37 L690.70,514.86 L690.80,505.00 L690.90,499.90 L691.00,497.85 L691.10,495.96 L691.20,492.29 L691.30,486.94 L691.40,481.96 L691.50,480.00 L691.60,481.96 L691.70,485.67 L691.80,487.24 L691.90,483.65 L692.00,474.43 L692.10,462.30 L692.20,452.49 L692.30,450.70 L692.40,459.87 L692.50,478.11 L692.60,500.14 L692.70,520.13 L692.80,533.65 L692.90,538.81 L693.00,536.42 L693.10,529.63 L693.20,522.78 L693.30,520.00 L693.40,523.35 L693.50,531.92 L693.60,542.80 L693.70,552.85 L693.80,559.78 L693.90,562.66 L694.00,561.94 L694.10,559.13 L694.20,556.21 L694.30,555.00 L694.40,556.53 L694.50,560.72 L694.60,566.68 L694.70,573.28 L694.80,579.52 L694.90,584.72 L695.00,588.54 L695.10,590.99 L695.20,592.28 L695.30,592.69 L695.40,592.52 L695.50,592.01 L695.60,591.32 L695.70,590.55 L695.80,589.77 L695.90,589.01 L696.00,588.29 L696.10,587.62 L696.20,587.01 L696.30,586.47 L696.40,585.99 L696.50,585.59 L696.60,585.25 L696.70,584.99 L696.80,584.80 L696.90,584.68 L697.00,584.63 L697.10,584.63 L697.20,584.70 L697.30,584.81 L697.40,584.96 L697.50,585.12 L697.60,585.26 L697.70,585.31 L697.80,585.19 L697.90,584.74 L698.00,583.70 L698.10,581.72 L698.20,578.26 L698.30,572.62 L698.40,563.91 L698.50,551.13 L698.60,533.24 L698.70,509.38 L698.80,479.04 L698.90,442.38 L699.00,400.38 L699.10,355.03 L699.20,309.27 L699.30,266.94 L699.40,232.36 L699.50,209.79 L699.60,202.50 L699.70,211.72 L699.80,236.20 L699.90,272.67 L700.00,316.87 L700.10,364.44 L700.20,411.55 L700.30,455.24 L700.40,493.50 L700.50,525.33 L700.60,550.56 L700.70,569.62 L700.80,583.34 L700.90,592.64 L701.00,598.36 L701.10,601.14 L701.20,601.36 L701.30,599.09 L701.40,594.12 L701.50,586.06 L701.60,574.40 L701.70,558.69 L701.80,538.66 L701.90,514.45 L702.00,486.69 L702.10,456.69 L702.20,426.32 L702.30,398.02 L702.40,374.54 L702.50,358.54 L702.60,352.00 L702.70,355.54 L702.80,368.15 L702.90,387.45 L703.00,410.43 L703.10,434.11 L703.20,455.99 L703.30,474.39 L703.40,488.57 L703.50,498.77 L703.60,506.03 L703.70,511.91 L703.80,518.00 L703.90,525.36 L704.00,534.24 L704.10,544.17 L704.20,554.37 L704.30,564.04 L704.40,572.55 L704.50,579.53 L704.60,584.87 L704.70,588.69 L704.80,591.24 L704.90,592.83 L705.00,593.75 L705.10,594.26 L705.20,594.53 L705.30,594.68 L705.40,594.78 L705.50,594.89 L705.60,595.02 L705.70,595.19 L705.80,595.40 L705.90,595.65 L706.00,595.95 L706.10,596.27 L706.20,596.60 L706.30,596.88 L706.40,597.00 L706.50,596.78 L706.60,595.94 L706.70,594.09 L706.80,590.88 L706.90,586.09 L707.00,579.84 L707.10,572.78 L707.20,566.10 L707.30,561.36 L707.40,560.00 L707.50,562.56 L707.60,568.21 L707.70,575.09 L707.80,581.10 L707.90,584.36 L708.00,583.52 L708.10,578.04 L708.20,568.36 L708.30,556.04 L708.40,543.60 L708.50,534.08 L708.60,530.20 L708.70,532.84 L708.80,540.32 L708.90,549.35 L709.00,556.68 L709.10,560.31 L709.20,559.97 L709.30,557.15 L709.40,554.53 L709.50,555.00 L709.60,560.17 L709.70,569.62 L709.80,581.50 L709.90,593.72 L710.00,604.63 L710.10,613.30 L710.20,619.57 L710.30,623.75 L710.40,626.38 L710.50,627.99 L710.60,629.01 L710.70,629.69 L710.80,630.20 L710.90,630.61 L711.00,630.96 L711.10,631.26 L711.20,631.53 L711.30,631.77 L711.40,631.99 L711.50,632.18 L711.60,632.36 L711.70,632.51 L711.80,632.65 L711.90,632.78 L712.00,632.89 L712.10,632.99 L712.20,633.09 M722.70,633.07 L722.80,632.61 L722.90,631.68 L723.00,629.85 L723.10,626.54 L723.20,621.17 L723.30,613.50 L723.40,604.05 L723.50,594.33 L723.60,586.74 L723.70,583.80 L723.80,586.66 L723.90,594.16 L724.00,603.78 L724.10,613.10 L724.20,620.56 L724.30,625.54 L724.40,628.06 L724.50,628.36 L724.60,626.53 L724.70,622.52 L724.80,616.36 L724.90,608.62 L725.00,600.61 L725.10,594.37 L725.20,592.00 L725.30,594.47 L725.40,600.82 L725.50,608.95 L725.60,616.86 L725.70,623.27 L725.80,627.76 L725.90,630.53 L726.00,632.07 L726.10,632.85 M735.20,633.03 L735.30,632.96 L735.40,632.89 L735.50,632.84 L735.60,632.81 L735.70,632.80 L735.80,632.81 L735.90,632.84 L736.00,632.89 L736.10,632.96 L736.20,633.04 M798.50,632.20 L798.60,628.83 L798.70,619.52 L798.80,601.44 L798.90,579.45 L799.00,568.60 L799.10,579.45 L799.20,601.44 L799.30,619.52 L799.40,628.83 L799.50,632.20" fill="none" stroke="#454545" stroke-width="0.9"/><path d="M82.35,664.3 H871.5 M82.10,664.3 V672.6 M89.27,664.3 V667 M96.44,664.3 V667 M103.62,664.3 V667 M110.79,664.3 V667 M117.96,664.3 V667 M125.13,664.3 V667 M132.30,664.3 V667 M139.48,664.3 V667 M146.65,664.3 V667 M153.82,664.3 V672.6 M160.99,664.3 V667 M168.16,664.3 V667 M175.34,664.3 V667 M182.51,664.3 V667 M189.68,664.3 V667 M196.85,664.3 V667 M204.02,664.3 V667 M211.20,664.3 V667 M218.37,664.3 V667 M225.54,664.3 V672.6 M232.71,664.3 V667 M239.88,664.3 V667 M247.06,664.3 V667 M254.23,664.3 V667 M261.40,664.3 V667 M268.57,664.3 V667 M275.74,664.3 V667 M282.92,664.3 V667 M290.09,664.3 V667 M297.26,664.3 V672.6 M304.43,664.3 V667 M311.60,664.3 V667 M318.78,664.3 V667 M325.95,664.3 V667 M333.12,664.3 V667 M340.29,664.3 V667 M347.46,664.3 V667 M354.64,664.3 V667 M361.81,664.3 V667 M368.98,664.3 V672.6 M376.15,664.3 V667 M383.32,664.3 V667 M390.50,664.3 V667 M397.67,664.3 V667 M404.84,664.3 V667 M412.01,664.3 V667 M419.18,664.3 V667 M426.36,664.3 V667 M433.53,664.3 V667 M440.70,664.3 V672.6 M447.87,664.3 V667 M455.04,664.3 V667 M462.22,664.3 V667 M469.39,664.3 V667 M476.56,664.3 V667 M483.73,664.3 V667 M490.90,664.3 V667 M498.08,664.3 V667 M505.25,664.3 V667 M512.42,664.3 V672.6 M519.59,664.3 V667 M526.76,664.3 V667 M533.94,664.3 V667 M541.11,664.3 V667 M548.28,664.3 V667 M555.45,664.3 V667 M562.62,664.3 V667 M569.80,664.3 V667 M576.97,664.3 V667 M584.14,664.3 V672.6 M591.31,664.3 V667 M598.48,664.3 V667 M605.66,664.3 V667 M612.83,664.3 V667 M620.00,664.3 V667 M627.17,664.3 V667 M634.34,664.3 V667 M641.52,664.3 V667 M648.69,664.3 V667 M655.86,664.3 V672.6 M663.03,664.3 V667 M670.20,664.3 V667 M677.38,664.3 V667 M684.55,664.3 V667 M691.72,664.3 V667 M698.89,664.3 V667 M706.06,664.3 V667 M713.24,664.3 V667 M720.41,664.3 V667 M727.58,664.3 V672.6 M734.75,664.3 V667 M741.92,664.3 V667 M749.10,664.3 V667 M756.27,664.3 V667 M763.44,664.3 V667 M770.61,664.3 V667 M777.78,664.3 V667 M784.96,664.3 V667 M792.13,664.3 V667 M799.30,664.3 V672.6 M806.47,664.3 V667 M813.64,664.3 V667 M820.82,664.3 V667 M827.99,664.3 V667 M835.16,664.3 V667 M842.33,664.3 V667 M849.50,664.3 V667 M856.68,664.3 V667 M863.85,664.3 V667 M871.02,664.3 V672.6" stroke="#3636a4" stroke-width="1.05" fill="none"/><text x="799.30" y="691" text-anchor="middle" class="axn">0</text><text x="727.58" y="691" text-anchor="middle" class="axn">1</text><text x="655.86" y="691" text-anchor="middle" class="axn">2</text><text x="584.14" y="691" text-anchor="middle" class="axn">3</text><text x="512.42" y="691" text-anchor="middle" class="axn">4</text><text x="440.70" y="691" text-anchor="middle" class="axn">5</text><text x="368.98" y="691" text-anchor="middle" class="axn">6</text><text x="297.26" y="691" text-anchor="middle" class="axn">7</text><text x="225.54" y="691" text-anchor="middle" class="axn">8</text><text x="153.82" y="691" text-anchor="middle" class="axn">9</text><text x="853.5" y="691" text-anchor="middle" class="axn">ppm</text><text transform="translate(284,144) rotate(-90)" class="pl">7.281</text><text transform="translate(494.00,144.5) rotate(-90)" class="pl">2.904</text><text transform="translate(511.81,144.5) rotate(-90)" class="pl">2.887</text><text transform="translate(529.62,144.5) rotate(-90)" class="pl">2.728</text><text transform="translate(547.43,144.5) rotate(-90)" class="pl">2.710</text><text transform="translate(565.24,144.5) rotate(-90)" class="pl">2.482</text><text transform="translate(583.05,144.5) rotate(-90)" class="pl">2.210</text><text transform="translate(600.86,144.5) rotate(-90)" class="pl">2.174</text><text transform="translate(618.67,144.5) rotate(-90)" class="pl">1.841</text><text transform="translate(636.48,144.5) rotate(-90)" class="pl">1.818</text><text transform="translate(654.29,144.5) rotate(-90)" class="pl">1.702</text><text transform="translate(672.10,144.5) rotate(-90)" class="pl">1.576</text><text transform="translate(689.91,144.5) rotate(-90)" class="pl">1.552</text><text transform="translate(707.72,144.5) rotate(-90)" class="pl">1.512</text><text transform="translate(725.53,144.5) rotate(-90)" class="pl">1.496</text><text transform="translate(743.34,144.5) rotate(-90)" class="pl">1.483</text><text transform="translate(761.15,144.5) rotate(-90)" class="pl">1.388</text><text transform="translate(778.96,144.5) rotate(-90)" class="pl">1.351</text><text transform="translate(796.77,144.5) rotate(-90)" class="pl">1.275</text><text transform="translate(814.58,144.5) rotate(-90)" class="pl">1.264</text><text transform="translate(832.39,144.5) rotate(-90)" class="pl">1.056</text><text transform="translate(850.20,144.5) rotate(-90)" class="pl">1.034</text><text transform="translate(868.01,144.5) rotate(-90)" class="pl">0.009</text><path d="M277.5,148 V172.3 M487.00,148.3 V152.2 L591.03,167.5 V172.3 M504.81,148.3 V152.2 L592.24,167.5 V172.3 M522.62,148.3 V152.2 L603.65,167.5 V172.3 M540.43,148.3 V152.2 L604.94,167.5 V172.3 M558.24,148.3 V152.2 L621.29,167.5 V172.3 M576.05,148.3 V152.2 L640.80,167.5 V172.3 M593.86,148.3 V152.2 L643.38,167.5 V172.3 M611.67,148.3 V152.2 L667.26,167.5 V172.3 M629.48,148.3 V152.2 L668.91,167.5 V172.3 M647.29,148.3 V152.2 L677.23,167.5 V172.3 M665.10,148.3 V152.2 L686.27,167.5 V172.3 M682.91,148.3 V152.2 L687.99,167.5 V172.3 M700.72,148.3 V152.2 L690.86,167.5 V172.3 M718.53,148.3 V152.2 L692.01,167.5 V172.3 M736.34,148.3 V152.2 L692.94,167.5 V172.3 M754.15,148.3 V152.2 L699.75,167.5 V172.3 M771.96,148.3 V152.2 L702.41,167.5 V172.3 M789.77,148.3 V152.2 L707.86,167.5 V172.3 M807.58,148.3 V152.2 L708.65,167.5 V172.3 M825.39,148.3 V152.2 L723.56,167.5 V172.3 M843.20,148.3 V152.2 L725.14,167.5 V172.3 M861.01,148.3 V152.2 L798.65,167.5 V172.3" stroke="#cc3535" stroke-width="1.05" fill="none"/><text transform="translate(594.75,724) rotate(-90)" text-anchor="end" class="il">1.924</text><text transform="translate(611.85,724) rotate(-90)" text-anchor="end" class="il">0.875</text><text transform="translate(647.40,724) rotate(-90)" text-anchor="end" class="il">0.904</text><text transform="translate(672.85,724) rotate(-90)" text-anchor="end" class="il">2.000</text><text transform="translate(701.60,724) rotate(-90)" text-anchor="end" class="il">26.263</text><text transform="translate(729.40,724) rotate(-90)" text-anchor="end" class="il">0.919</text><path d="M589.7,701.2 V712.6 L581.2,723 V765.8 M594.0,701.2 V712.6 L598.3,723 V765.8 M602.6,701.2 V712.6 L598.3,723 V765.8 M606.4,701.2 V712.6 L615.4,723 V765.8 M640.4,701.2 V712.6 L633.9,723 V765.8 M644.7,701.2 V712.6 L650.9,723 V765.8 M665.9,701.2 V712.6 L659.3,723 V765.8 M670.4,701.2 V712.6 L676.4,723 V765.8 M681.6,701.2 V712.6 L688.3,723 V765.8 M711.6,701.2 V712.6 L704.9,723 V765.8 M721.5,701.2 V712.6 L715.8,723 V765.8 M727.7,701.2 V712.6 L733.0,723 V765.8" stroke="#b03040" stroke-width="1" fill="none"/>

<g transform="translate(1008.9 129.5)" fill="#3348b0" fill-rule="evenodd">
 <path transform="rotate(32.7)" d="M-65.9,0 A65.9,23.4 0 1 0 65.9,0 A65.9,23.4 0 1 0 -65.9,0 Z M-61.6,-0.9 A61.6,20.9 0 1 0 61.6,-0.9 A61.6,20.9 0 1 0 -61.6,-0.9 Z"/>
 <path transform="rotate(-32.7)" d="M-65.9,0 A65.9,23.4 0 1 0 65.9,0 A65.9,23.4 0 1 0 -65.9,0 Z M-61.6,0.9 A61.6,20.9 0 1 0 61.6,0.9 A61.6,20.9 0 1 0 -61.6,0.9 Z"/>
</g>
<circle cx="981.8" cy="91.2" r="4.8" fill="#3348b0"/>
<circle cx="981.8" cy="168.5" r="4.8" fill="#3348b0"/>
<rect x="922" y="118.4" width="172" height="22.3" fill="#fff"/>
<path fill="#0a0a0a" fill-rule="evenodd" d="
M926.2,120.3 H947 Q950.4,120.3 950.4,123.5 V127.5 Q950.4,129.5 948.5,129.8 Q950.4,130.2 950.4,132.5 V136 Q950.4,139.2 947,139.2 H926.2 Z
M934.1,126.4 H942.5 V128.3 H934.1 Z M934.1,132.8 H943 V134.7 H934.1 Z
M954.9,120.3 H974.9 Q978.4,120.3 978.4,124 V128 Q978.4,131 975.4,131.5 L978.4,139.2 H966.6 L963.4,133.5 H962.8 V139.2 H954.9 Z
M962.8,126.2 H970.4 V128.2 H962.8 Z
M983,120.2 H991.1 V131 Q991.1,133.9 994,133.9 Q996.9,133.9 996.9,131 V120.2 H1005.3 V134 Q1005.3,139.3 1000,139.3 H988.3 Q983,139.3 983,134 Z
M1010,120.2 H1018.2 V125 L1021,120.2 H1033.5 L1026,129.7 L1034.6,139.3 H1024.5 L1018.2,131.5 V139.3 H1010 Z
M1039,120.6 H1061 V125.9 H1047.1 V127.9 H1057.7 V132.4 H1047.1 V133.9 H1061 V139.2 H1039 Z
M1065.5,120.6 H1085.5 Q1089.2,120.6 1089.2,124.5 V128 Q1089.2,131 1086.2,131.8 L1089.2,139.2 H1077.2 L1074,133.5 H1073.3 V139.2 H1065.5 Z
M1073.3,126.1 H1080.9 V127.9 H1073.3 Z"/>


<g fill="none" stroke="#74bd3e" stroke-width="3.3" stroke-linejoin="round" stroke-linecap="round">
 <polygon points="455,368.6 468,346 494,346 507,368.6 494,391.2 468,391.2"/>
 <line x1="473" y1="353" x2="489" y2="353" stroke-width="3.6"/>
 <line x1="463.5" y1="372" x2="471" y2="385.5" stroke-width="3.6"/>
 <line x1="498.5" y1="372" x2="491" y2="385.5" stroke-width="3.6"/>
</g>
<g fill="#000">
 <path d="M511.8,352.6 H518.7 L527.4,372 L536.2,352.6 H542.8 V394.3 H538 V363 L530,378.8 H525 L517,363 V394.3 H511.8 Z"/>
 <path d="M546.6,365.3 H566.9 V394.3 H546.6 Z M551.8,368.4 V391 H562.1 V368.4 Z" fill-rule="evenodd"/>
 <rect x="570" y="351.9" width="5.5" height="42.4"/>
 <path d="M579.2,352.6 H599.2 V371.9 H598 V374.9 H599.2 V393.8 H579.2 Z M584.1,355.6 V371.9 H595 V355.6 Z M584.1,374.9 V391.1 H595 V374.9 Z" fill-rule="evenodd"/>
 <path d="M602.2,365.4 H622.7 V382.8 H607 V391.1 H622.7 V393.8 H602.2 Z M607,368.5 V379.8 H618.1 V368.5 Z" fill-rule="evenodd"/>
 <path d="M625.3,365.6 H661.6 V368.4 H656 V391.1 H661.6 V393.8 H651 V368.4 H630.2 V378.3 H644.6 V393.8 H625.3 V391.1 H639.7 V381.3 H625.3 Z"/>
 <rect x="651" y="354" width="5" height="12"/>
</g>
<text x="448" y="426.4" class="wm">molBest.com,180K+ Chemical Reagents In Stock.</text>

</svg>
<pre id="params">Current Data Parameters
NAME     286-99-7P3285083
EXPNO                 1
PROCNO                1

F2 - Acquisition Parameters
Date_          20241111
Time              13.10 h
INSTRUM          Avance
PROBHD   Z154705_0134 (
PULPROG            zg30
TD                65536
SOLVENT           CDCl3
NS                    4
DS                    0
SWH           11904.762 Hz
FIDRES         0.363304 Hz
AQ            2.7525120 sec
RG                   32
DW               42.000 usec
DE                 8.79 usec
TE                296.2 K
D1           1.00000000 sec
TD0                   1
SFO1        600.1537059 MHz
NUC1                 1H
P0                 3.33 usec
P1                10.00 usec
PLW1        21.87999916 W

F2 - Processing parameters
SI                65536
SF          600.1500019 MHz
WDW                  EM
SSB                   0
LB                 0.30 Hz
GB                    0
PC                 1.00</pre>
</body></html>
